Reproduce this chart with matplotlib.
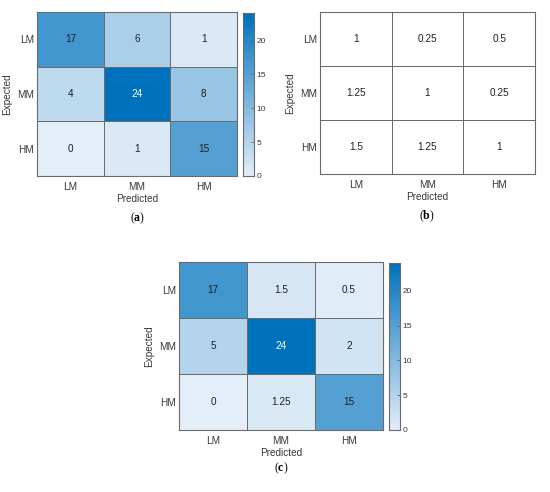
import numpy as np
import matplotlib
matplotlib.use("Agg")
import matplotlib.pyplot as plt
from matplotlib.colors import LinearSegmentedColormap

plt.rcParams['font.family'] = ['Liberation Sans', 'DejaVu Sans']
plt.rcParams['mathtext.fontset'] = 'custom'
plt.rcParams['mathtext.bf'] = 'Liberation Serif:bold'
plt.rcParams['mathtext.rm'] = 'Liberation Serif'

labels = ["LM", "MM", "HM"]
cm_a = [[17, 6, 1], [4, 24, 8], [0, 1, 15]]
cm_b = [[1, 0.25, 0.5], [1.25, 1, 0.25], [1.5, 1.25, 1]]
cm_c = [[17, 1.5, 0.5], [5, 24, 2], [0, 1.25, 15]]
cbar_ticks = [0, 5, 10, 15, 20]

W, H = 550, 492
fig = plt.figure(figsize=(W / 100, H / 100), dpi=100)

def rect(x0, y0, x1, y1):
    return [x0 / W, 1 - y1 / H, (x1 - x0) / W, (y1 - y0) / H]

cmap = LinearSegmentedColormap.from_list("mblue", [(228/255, 238/255, 248/255), (0/255, 114/255, 189/255)])
TXT = (0.12, 0.12, 0.12)
LBL = (0.22, 0.22, 0.22)
GRID = (0.42, 0.42, 0.42)
FS = 7.2

def fmt(v):
    return ("%g" % v)

def heat(ax, data, colored=True):
    d = np.array(data, dtype=float)
    if colored:
        ax.pcolormesh(d, cmap=cmap, vmin=0, vmax=24, edgecolors=GRID, linewidth=0.7)
    else:
        ax.pcolormesh(np.zeros_like(d), cmap=LinearSegmentedColormap.from_list("w", ["white", "white"]),
                      edgecolors=GRID, linewidth=0.7)
    ax.set_xlim(0, 3)
    ax.set_ylim(3, 0)
    for i in range(3):
        for j in range(3):
            c = 'white' if (colored and d[i, j] > 20) else TXT
            ax.text(j + 0.5, i + 0.5, fmt(d[i, j]), ha='center', va='center', fontsize=FS, color=c)
    ax.set_xticks(np.arange(3) + 0.5)
    ax.set_yticks(np.arange(3) + 0.5)
    ax.set_xticklabels(labels, fontsize=FS, color=LBL)
    ax.set_yticklabels(labels, fontsize=FS, color=LBL)
    ax.tick_params(axis='x', length=0, pad=4)
    ax.tick_params(axis='y', length=0, pad=2)
    for s in ax.spines.values():
        s.set_color(GRID)
        s.set_linewidth(0.8)
    ax.set_xlabel("Predicted", fontsize=FS, color=LBL, labelpad=2)
    ax.set_ylabel("Expected", fontsize=FS, color=LBL, labelpad=4)
    return ax

def cbar(cax):
    grad = np.linspace(0, 24, 256).reshape(-1, 1)
    cax.imshow(grad, cmap=cmap, vmin=0, vmax=24, aspect='auto', origin='lower', extent=[0, 1, 0, 24])
    cax.set_xticks([])
    cax.yaxis.tick_right()
    cax.set_yticks(cbar_ticks)
    cax.set_yticklabels([str(t) for t in cbar_ticks], fontsize=6, color=LBL)
    cax.tick_params(axis='y', direction='in', length=2, width=0.6, color=(0.4, 0.4, 0.4), pad=2)
    for s in cax.spines.values():
        s.set_color(GRID)
        s.set_linewidth(0.8)

# Panel (a)
ax_a = fig.add_axes(rect(37, 12, 237, 176))
heat(ax_a, cm_a)
cax_a = fig.add_axes(rect(243, 13, 254, 176))
cbar(cax_a)

# Panel (b)
ax_b = fig.add_axes(rect(320, 12, 535, 174))
heat(ax_b, cm_b, colored=False)

# Panel (c)
ax_c = fig.add_axes(rect(179, 262, 383, 430))
heat(ax_c, cm_c)
cax_c = fig.add_axes(rect(389, 263, 400, 430))
cbar(cax_c)

for lab, x, y in [("a", 138, 218), ("b", 427, 216), ("c", 281, 468)]:
    fig.text(x / W, 1 - y / H, r"($\mathbf{%s}$)" % lab, ha='center', va='center', fontsize=8.5,
             family='Liberation Serif', color='black')

fig.savefig("out.png", dpi=100)
